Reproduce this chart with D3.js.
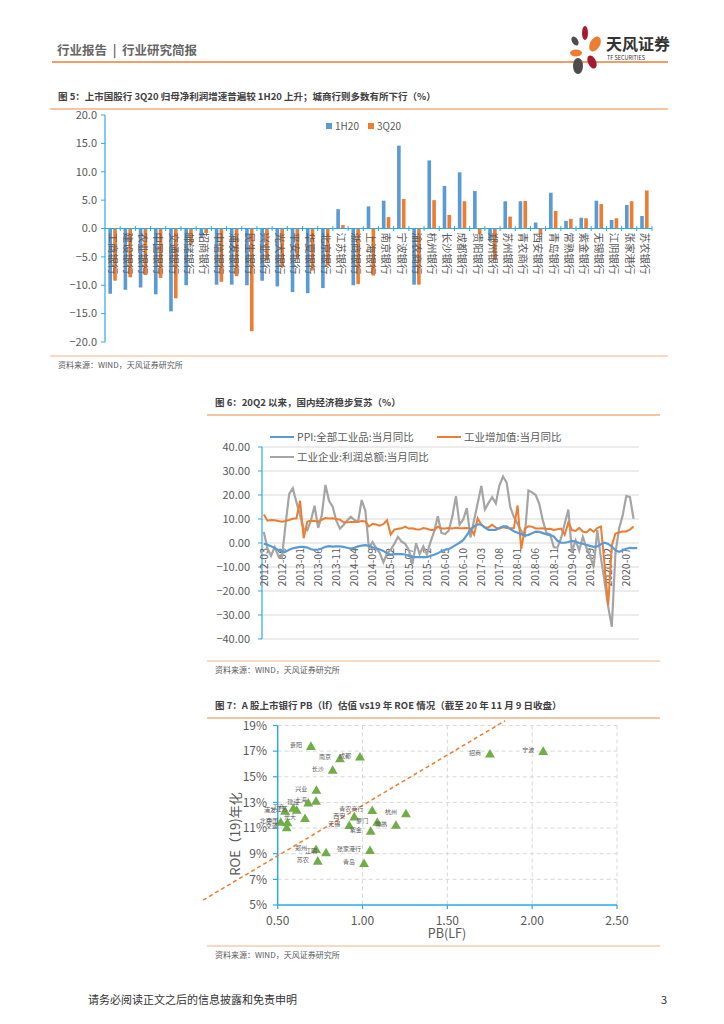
<!DOCTYPE html>
<html>
<head>
<meta charset="utf-8">
<script src="https://cdn.jsdelivr.net/npm/d3@7"></script>
<style>
body { margin: 0; background: #fff; }
svg { display: block; font-family: "Noto Sans CJK SC", "Noto Sans", sans-serif; }
</style>
</head>
<body>
<svg id="page" width="724" height="1024"></svg>
<script>
// ---------- data: figure 5 ----------
var banks = ['工商银行','建设银行','农业银行','中国银行','交通银行','邮储银行','招商银行','中信银行','浦发银行',
  '民生银行','兴业银行','光大银行','平安银行','华夏银行','北京银行','江苏银行','浙商银行','上海银行','南京银行',
  '宁波银行','渝农商行','杭州银行','长沙银行','成都银行','贵阳银行','郑州银行','苏州银行','青农商行','西安银行',
  '青岛银行','常熟银行','紫金银行','无锡银行','江阴银行','张家港行','苏农银行'];
var h1Growth = [-11.5,-10.8,-10.4,-11.6,-14.6,-10.0,-1.7,-9.9,-9.9,-10.0,-9.2,-10.2,-11.2,-11.4,-10.5,3.4,-10.0,
  3.9,4.9,14.6,-9.9,12.0,7.5,9.9,6.6,-2.2,4.8,4.8,1.05,6.3,1.35,1.9,4.9,1.5,4.15,2.2];
var q3Growth = [-9.2,-8.6,-8.2,-8.7,-12.3,-2.7,-0.8,-9.4,-8.4,-18.1,-5.6,-6.8,-5.2,-7.4,-6.5,0.6,-9.8,
  -8.3,2.0,5.2,-9.9,5.0,2.4,4.8,-1.0,-5.5,2.1,4.85,-1.05,3.1,1.7,1.8,4.3,1.8,4.8,6.7];
var barTicks = [20,15,10,5,0,-5,-10,-15,-20];

// ---------- data: figure 6 ----------
var ppi = [-0.3,-0.7,-1.4,-2.1,-2.9,-3.5,-3.6,-2.8,-2.2,-1.9,
  -1.6,-1.6,-1.9,-2.6,-2.9,-2.7,-2.3,-1.6,-1.3,-1.5,-1.4,-1.4,
  -1.6,-2.0,-2.3,-2.0,-1.4,-1.1,-0.9,-1.2,-1.8,-2.2,-2.7,-3.3,
  -4.3,-4.8,-4.6,-4.6,-4.6,-4.8,-5.4,-5.9,-5.9,-5.9,-5.9,-5.9,
  -5.3,-4.9,-4.3,-3.4,-2.8,-2.6,-1.7,-0.8,0.1,1.2,3.3,5.5,
  6.9,7.8,7.6,6.4,5.5,5.5,5.5,6.3,6.9,6.9,5.8,4.9,
  4.3,3.7,3.1,3.4,4.1,4.7,4.6,4.1,3.6,3.3,2.7,0.9,
  0.1,0.1,0.4,0.9,0.6,0.0,-0.3,-0.8,-1.2,-1.6,-1.4,-0.5,
  0.1,-0.4,-1.5,-3.1,-3.7,-3.0,-2.4,-2.0,-2.1,-2.1];
var valueAdded = [11.9,9.3,9.6,9.5,9.2,8.9,9.2,9.6,10.1,10.3,
  17.6,2.0,8.9,9.3,9.2,8.9,9.7,10.4,10.2,10.3,10.0,9.7,
  8.6,8.6,8.8,8.7,8.8,9.2,9.0,6.9,8.0,7.7,7.2,7.9,
  9.5,3.5,5.6,5.9,6.1,6.8,6.0,6.1,5.7,5.6,6.2,5.9,
  5.4,5.4,6.8,6.0,6.0,6.2,6.0,6.3,6.1,6.1,6.2,6.0,
  3.5,10.3,7.6,6.5,6.5,7.6,6.4,6.0,6.6,6.2,6.1,6.2,
  15.7,-2.5,6.0,7.0,6.8,6.0,6.0,6.1,5.8,5.9,5.4,5.7,
  6.0,3.4,8.5,5.4,5.0,6.3,4.8,4.4,5.8,4.7,6.2,6.9,
  -9.0,-25.9,-1.1,3.9,4.4,4.8,4.8,5.6,6.9];
var profits = [4.6,-2.2,-5.3,-1.7,-5.4,-6.2,7.8,20.5,22.8,17.0,
  11.5,5.8,5.3,9.4,15.5,6.3,11.6,24.2,17.6,15.1,9.3,6.0,
  7.5,9.4,10.9,9.6,8.9,17.9,13.5,-2.0,0.4,-2.1,-4.2,-8.0,
  -4.2,-2.8,-0.4,2.6,0.6,-0.3,-2.9,-8.8,-0.1,-4.6,-1.4,-4.7,
  0.5,4.8,11.1,4.2,3.7,5.1,11.0,19.5,7.7,9.8,14.5,2.3,
  9.5,16.6,23.8,14.0,16.7,19.1,16.5,24.0,27.7,25.1,14.9,10.8,
  8.0,5.0,3.1,21.9,21.1,20.0,16.2,9.2,4.1,3.6,-1.8,-1.9,
  2.0,8.0,13.9,-3.7,1.1,-3.1,2.6,-2.0,-5.3,-9.9,5.4,-6.3,
  -16.0,-26.5,-34.9,-4.3,6.0,11.5,19.6,19.1,10.1];
var dateTicks = ['2012-03','2012-08','2013-01','2013-06','2013-11','2014-04','2014-09','2015-02','2015-07',
  '2015-12','2016-05','2016-10','2017-03','2017-08','2018-01','2018-06','2018-11','2019-04','2019-09',
  '2020-02','2020-07'];
var lineTicks = [40,30,20,10,0,-10,-20,-30,-40];

// ---------- data: figure 7 ----------
var scatterNames = ['贵阳','南京','成都','长沙','兴业','上海','建设','江苏','工商','浦发','光大','中国',
  '北京','交通','西安','青农商行','厦门','无锡','紫金','常熟','杭州','郑州','江阴','张家港行','苏农','青岛','招商','宁波'];
var pbValues = [0.696,0.867,0.985,0.824,0.728,0.726,0.68,0.612,0.592,0.543,0.661,0.557,
  0.518,0.553,0.951,1.057,1.087,0.922,1.048,1.197,1.256,0.726,0.785,1.044,0.736,1.009,1.751,2.065];
var roeValues = [17.32,16.36,16.49,15.45,13.9,13.04,12.9,12.34,12.5,12.26,11.69,11.36,
  11.4,10.97,11.82,12.31,11.4,11.15,10.7,11.16,12.07,9.28,9.02,9.2,8.37,8.19,16.73,16.93];
var trendPb = [0.06, 1.84];
var trendRoe = [5.38, 19.37];
var pbTicks = [0.5,1.0,1.5,2.0,2.5];
var roeTicks = [5,7,9,11,13,15,17,19];

var blue = '#5B9BD5', orange = '#ED7D31', gray = '#A5A5A5', green = '#70AD47';
var axisBlue = '#2AABE4', txt = '#595959', rule = '#F4B183';

var svg = d3.select('#page');

// ---------- page header ----------
svg.append('text').attr('x', 57).attr('y', 55).attr('font-size', 12.5).attr('font-weight', 'bold')
  .attr('fill', '#666').attr('xml:space', 'preserve').text('行业报告  |  行业研究简报');
svg.append('line').attr('x1', 52).attr('x2', 668).attr('y1', 62).attr('y2', 62)
  .attr('stroke', orange).attr('stroke-width', 1.5);
// logo
var logo = svg.append('g').attr('transform', 'translate(586,50)');
logo.append('ellipse').attr('cx', -1).attr('cy', -17).attr('rx', 3).attr('ry', 7).attr('fill', '#A6192E');
logo.append('ellipse').attr('cx', -11).attr('cy', -9).attr('rx', 3).attr('ry', 5).attr('fill', '#4D4D4D').attr('transform', 'rotate(-30,-11,-9)');
logo.append('ellipse').attr('cx', 9).attr('cy', -6).attr('rx', 5).attr('ry', 8).attr('fill', orange).attr('transform', 'rotate(30,9,-6)');
logo.append('ellipse').attr('cx', -10).attr('cy', 3).attr('rx', 6).attr('ry', 3.5).attr('fill', orange);
logo.append('ellipse').attr('cx', 6).attr('cy', 12).attr('rx', 4).attr('ry', 7).attr('fill', '#A6192E').attr('transform', 'rotate(-25,6,12)');
logo.append('ellipse').attr('cx', -8).attr('cy', 16).attr('rx', 5).attr('ry', 8).attr('fill', '#4D4D4D');
svg.append('text').attr('x', 606).attr('y', 50).attr('font-size', 16).attr('font-weight', 'bold')
  .attr('fill', '#333').text('天风证券');
svg.append('text').attr('x', 607).attr('y', 60).attr('font-size', 5.5).attr('fill', '#333').text('TF SECURITIES');

function title(x, y, w, s) {
  svg.append('text').attr('x', x).attr('y', y).attr('font-size', 9.5).attr('font-weight', 'bold')
    .attr('fill', '#404040').text(s);
  svg.append('line').attr('x1', x - 8).attr('x2', x - 8 + w).attr('y1', y + 9).attr('y2', y + 9)
    .attr('stroke', rule).attr('stroke-width', 1.5);
}
function source(x, y, w) {
  svg.append('line').attr('x1', x - 8).attr('x2', x - 8 + w).attr('y1', y - 12).attr('y2', y - 12)
    .attr('stroke', rule).attr('stroke-width', 1);
  svg.append('text').attr('x', x).attr('y', y).attr('font-size', 8).attr('fill', txt)
    .text('资料来源：WIND，天风证券研究所');
}

// ---------- figure 5 ----------
title(58, 100, 618, '图 5：上市国股行 3Q20 归母净利润增速普遍较 1H20 上升；城商行则多数有所下行（%）');
source(58, 368, 618);

var x1 = d3.scaleBand().domain(banks).range([105, 652]);
var y1 = d3.scaleLinear().domain([-20, 20]).range([342, 115]);
var xs = d3.scaleBand().domain(['h1', 'q3']).range([0, x1.bandwidth()]).paddingInner(0.25).paddingOuter(0.7);

var g1 = svg.append('g');
g1.selectAll('text.yt').data(barTicks).enter().append('text')
  .attr('x', 97).attr('y', function (d) { return y1(d); }).attr('dy', '0.35em')
  .attr('text-anchor', 'end').attr('font-size', 11).attr('fill', txt)
  .text(function (d) { return d3.format('.1f')(d); });
g1.selectAll('line.yt').data(barTicks).enter().append('line')
  .attr('x1', 101).attr('x2', 105).attr('y1', function (d) { return y1(d); }).attr('y2', function (d) { return y1(d); })
  .attr('stroke', axisBlue);
g1.append('line').attr('x1', 105).attr('x2', 105).attr('y1', y1(20)).attr('y2', y1(-20))
  .attr('stroke', axisBlue).attr('stroke-width', 1.2);

var groups = g1.selectAll('g.bank').data(banks).enter().append('g')
  .attr('transform', function (d) { return 'translate(' + x1(d) + ',0)'; });
groups.append('rect').attr('x', xs('h1')).attr('width', xs.bandwidth())
  .attr('y', function (d, i) { return y1(Math.max(0, h1Growth[i])); })
  .attr('height', function (d, i) { return Math.abs(y1(h1Growth[i]) - y1(0)); })
  .attr('fill', blue);
groups.append('rect').attr('x', xs('q3')).attr('width', xs.bandwidth())
  .attr('y', function (d, i) { return y1(Math.max(0, q3Growth[i])); })
  .attr('height', function (d, i) { return Math.abs(y1(q3Growth[i]) - y1(0)); })
  .attr('fill', orange);

g1.append('line').attr('x1', 105).attr('x2', 652).attr('y1', y1(0)).attr('y2', y1(0))
  .attr('stroke', axisBlue).attr('stroke-width', 1.2);
g1.selectAll('line.xt').data(banks).enter().append('line')
  .attr('x1', function (d) { return x1(d) + x1.bandwidth(); }).attr('x2', function (d) { return x1(d) + x1.bandwidth(); })
  .attr('y1', y1(0) - 2.5).attr('y2', y1(0) + 2.5).attr('stroke', axisBlue);
g1.selectAll('text.xl').data(banks).enter().append('text')
  .attr('transform', function (d) { return 'translate(' + (x1(d) + x1.bandwidth() / 2) + ',' + (y1(0) + 4) + ') rotate(90)'; })
  .attr('dy', '0.35em').attr('font-size', 10.5).attr('fill', txt).text(function (d) { return d; });

var leg1 = g1.append('g').attr('transform', 'translate(326,126)');
[['1H20', blue], ['3Q20', orange]].forEach(function (d, i) {
  leg1.append('rect').attr('x', i * 42).attr('y', -3).attr('width', 6).attr('height', 6).attr('fill', d[1]);
  leg1.append('text').attr('x', i * 42 + 9).attr('y', 0).attr('dy', '0.35em').attr('font-size', 10)
    .attr('fill', txt).text(d[0]);
});

// ---------- figure 6 ----------
title(215, 406, 453, '图 6：20Q2 以来，国内经济稳步复苏（%）');
source(215, 673, 453);

var months = [];
for (var yr = 2012; yr <= 2020; yr++) {
  for (var mo = 1; mo <= 12; mo++) {
    if ((yr === 2012 && mo < 3) || (yr === 2020 && mo > 10)) continue;
    months.push(yr + '-' + (mo < 10 ? '0' + mo : mo));
  }
}
var x2 = d3.scaleBand().domain(months).range([262, 639]);
var y2 = d3.scaleLinear().domain([-40, 40]).range([639, 447]);
var g2 = svg.append('g');
g2.selectAll('line.grid').data(lineTicks).enter().append('line')
  .attr('x1', 262).attr('x2', 639).attr('y1', function (d) { return y2(d); }).attr('y2', function (d) { return y2(d); })
  .attr('stroke', '#D9D9D9');
g2.selectAll('text.yt').data(lineTicks).enter().append('text')
  .attr('x', 250).attr('y', function (d) { return y2(d); }).attr('dy', '0.35em')
  .attr('text-anchor', 'end').attr('font-size', 11).attr('fill', txt)
  .text(function (d) { return d3.format('.2f')(d); });
g2.selectAll('line.yt').data(lineTicks).enter().append('line')
  .attr('x1', 258).attr('x2', 262).attr('y1', function (d) { return y2(d); }).attr('y2', function (d) { return y2(d); })
  .attr('stroke', axisBlue);
g2.append('line').attr('x1', 262).attr('x2', 262).attr('y1', y2(40)).attr('y2', y2(-40))
  .attr('stroke', axisBlue).attr('stroke-width', 1.2);
g2.selectAll('text.xl').data(dateTicks).enter().append('text')
  .attr('transform', function (d) { return 'translate(' + (x2(d) + x2.bandwidth() / 2) + ',' + (y2(0) + 5) + ') rotate(-90)'; })
  .attr('dy', '0.35em').attr('text-anchor', 'end').attr('font-size', 10.5).attr('fill', txt)
  .text(function (d) { return d; });

function monthLine(vals) {
  return d3.line()
    .x(function (d, i) { return x2(months[i]) + x2.bandwidth() / 2; })
    .y(function (d) { return y2(d); })(vals);
}
g2.append('path').attr('d', monthLine(profits)).attr('fill', 'none').attr('stroke', gray).attr('stroke-width', 2.2);
g2.append('path').attr('d', monthLine(valueAdded)).attr('fill', 'none').attr('stroke', orange).attr('stroke-width', 2);
g2.append('path').attr('d', monthLine(ppi)).attr('fill', 'none').attr('stroke', blue).attr('stroke-width', 2.2);

var leg2 = [['PPI:全部工业品:当月同比', blue, 270, 437], ['工业增加值:当月同比', orange, 437, 437],
  ['工业企业:利润总额:当月同比', gray, 270, 457]];
leg2.forEach(function (d) {
  g2.append('line').attr('x1', d[2]).attr('x2', d[2] + 24).attr('y1', d[3]).attr('y2', d[3])
    .attr('stroke', d[1]).attr('stroke-width', 2);
  g2.append('text').attr('x', d[2] + 27).attr('y', d[3]).attr('dy', '0.35em').attr('font-size', 10.5)
    .attr('fill', txt).text(d[0]);
});

// ---------- figure 7 ----------
title(215, 709, 453, '图 7：A 股上市银行 PB（lf）估值 vs19 年 ROE 情况（截至 20 年 11 月 9 日收盘）');
source(215, 958, 453);

var x3 = d3.scaleLinear().domain([0.5, 2.5]).range([277.7, 617]);
var y3 = d3.scaleLinear().domain([5, 19]).range([905, 725.5]);
var g3 = svg.append('g');
g3.selectAll('line.gy').data(roeTicks.slice(1)).enter().append('line')
  .attr('x1', 277.7).attr('x2', 617).attr('y1', function (d) { return y3(d); }).attr('y2', function (d) { return y3(d); })
  .attr('stroke', '#D9D9D9').attr('stroke-dasharray', '4,3');
g3.selectAll('line.gx').data(pbTicks.slice(1)).enter().append('line')
  .attr('y1', 725.5).attr('y2', 905).attr('x1', function (d) { return x3(d); }).attr('x2', function (d) { return x3(d); })
  .attr('stroke', '#D9D9D9').attr('stroke-dasharray', '4,3');
g3.append('line').attr('x1', 277.7).attr('x2', 277.7).attr('y1', 725.5).attr('y2', 905).attr('stroke', axisBlue).attr('stroke-width', 1.5);
g3.append('line').attr('x1', 277.7).attr('x2', 617).attr('y1', 905).attr('y2', 905).attr('stroke', axisBlue).attr('stroke-width', 1.5);
g3.selectAll('line.ty').data(roeTicks).enter().append('line')
  .attr('x1', 273).attr('x2', 277.7).attr('y1', function (d) { return y3(d); }).attr('y2', function (d) { return y3(d); })
  .attr('stroke', axisBlue).attr('stroke-width', 1.2);
g3.selectAll('line.tx').data(pbTicks).enter().append('line')
  .attr('y1', 905).attr('y2', 909).attr('x1', function (d) { return x3(d); }).attr('x2', function (d) { return x3(d); })
  .attr('stroke', axisBlue).attr('stroke-width', 1.2);
g3.selectAll('text.ty').data(roeTicks).enter().append('text')
  .attr('x', 267).attr('y', function (d) { return y3(d); }).attr('dy', '0.35em')
  .attr('text-anchor', 'end').attr('font-size', 12).attr('fill', txt).text(function (d) { return d + '%'; });
g3.selectAll('text.tx').data(pbTicks).enter().append('text')
  .attr('x', function (d) { return x3(d); }).attr('y', 921).attr('dy', '0.35em')
  .attr('text-anchor', 'middle').attr('font-size', 12).attr('fill', txt).text(function (d) { return d3.format('.2f')(d); });
g3.append('text').attr('x', 447).attr('y', 934).attr('dy', '0.35em').attr('text-anchor', 'middle')
  .attr('font-size', 12.5).attr('fill', txt).text('PB(LF)');
g3.append('text').attr('transform', 'translate(235,834) rotate(-90)').attr('dy', '0.35em').attr('text-anchor', 'middle')
  .attr('font-size', 13).attr('fill', txt).text('ROE（19)年化');

g3.append('line').attr('x1', x3(trendPb[0])).attr('y1', y3(trendRoe[0]))
  .attr('x2', x3(trendPb[1])).attr('y2', y3(trendRoe[1]))
  .attr('stroke', orange).attr('stroke-width', 1.5).attr('stroke-dasharray', '4,3');

var tri = d3.symbol().type(d3.symbolTriangle).size(42);
g3.selectAll('path.pt').data(pbValues).enter().append('path')
  .attr('d', tri).attr('fill', green)
  .attr('transform', function (d, i) { return 'translate(' + x3(d) + ',' + y3(roeValues[i]) + ')'; });
g3.selectAll('text.pl').data(scatterNames).enter().append('text')
  .attr('x', function (d, i) { return x3(pbValues[i]) - 9; })
  .attr('y', function (d, i) { return y3(roeValues[i]); })
  .attr('text-anchor', 'end').attr('font-size', 6).attr('fill', txt).text(function (d) { return d; });

// ---------- footer ----------
svg.append('text').attr('x', 88).attr('y', 1004).attr('font-size', 11).attr('fill', '#333')
  .text('请务必阅读正文之后的信息披露和免责申明');
svg.append('text').attr('x', 667).attr('y', 1004).attr('text-anchor', 'end').attr('font-size', 11).attr('fill', '#333').text('3');
</script>
</body>
</html>
